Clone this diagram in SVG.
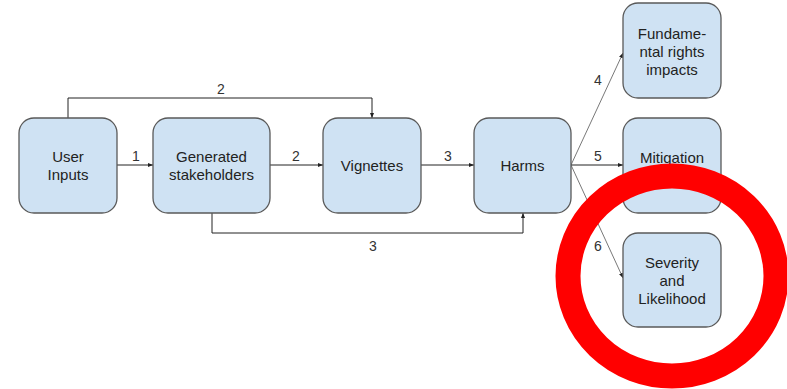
<svg xmlns="http://www.w3.org/2000/svg" width="787" height="389" viewBox="0 0 787 389">
  <defs>
    <marker id="arrow" viewBox="0 0 10 10" refX="10" refY="5" markerWidth="5" markerHeight="5" orient="auto" markerUnits="userSpaceOnUse">
      <path d="M0,1 L10,5 L0,9 z" fill="#222"/>
    </marker>
    <style>
      .box { fill: #cfe2f3; stroke: #595959; stroke-width: 1.3; }
      .label { font-family: "Liberation Sans", Arial, sans-serif; font-size: 15px; fill: #222; text-anchor: middle; }
      .num { font-family: "Liberation Sans", Arial, sans-serif; font-size: 14px; fill: #333; text-anchor: middle; }
      .edge { fill: none; stroke: #222; stroke-width: 1; }
      .thin { fill: none; stroke: #555; stroke-width: 0.8; }
    </style>
  </defs>
  <rect width="787" height="389" fill="#ffffff"/>

  <g id="connectors">
    <!-- 1: inputs -> stakeholders -->
    <line class="edge" x1="117" y1="165" x2="153" y2="165" marker-end="url(#arrow)"/>
    <text class="num" x="136" y="161">1</text>
    <!-- 2: stakeholders -> vignettes -->
    <line class="edge" x1="270" y1="165" x2="323" y2="165" marker-end="url(#arrow)"/>
    <text class="num" x="296" y="161">2</text>
    <!-- 2: inputs -> vignettes (over the top) -->
    <path class="edge" d="M68,118 V98 H372 V118" marker-end="url(#arrow)"/>
    <text class="num" x="221" y="94">2</text>
    <!-- 3: vignettes -> harms -->
    <line class="edge" x1="421" y1="165" x2="474" y2="165" marker-end="url(#arrow)"/>
    <text class="num" x="448" y="161">3</text>
    <!-- 3: stakeholders -> harms (underneath) -->
    <path class="edge" d="M212,213 V233 H523 V213" marker-end="url(#arrow)"/>
    <text class="num" x="373" y="251">3</text>
    <!-- 4, 5, 6: harms fan-out -->
    <line class="thin" x1="571" y1="165" x2="623" y2="53" marker-end="url(#arrow)"/>
    <text class="num" x="598" y="85">4</text>
    <line class="edge" x1="571" y1="165" x2="623" y2="165" marker-end="url(#arrow)"/>
    <text class="num" x="598" y="161">5</text>
    <line class="thin" x1="571" y1="165" x2="623" y2="278" marker-end="url(#arrow)"/>
    <text class="num" x="598" y="251">6</text>
  </g>

  <g id="user-inputs">
    <rect class="box" x="19" y="118" width="98" height="95" rx="15"/>
    <text class="label" x="68" y="162">User</text>
    <text class="label" x="68" y="180">Inputs</text>
  </g>
  <g id="generated-stakeholders">
    <rect class="box" x="153" y="118" width="117" height="95" rx="15"/>
    <text class="label" x="211.5" y="162">Generated</text>
    <text class="label" x="211.5" y="180">stakeholders</text>
  </g>
  <g id="vignettes">
    <rect class="box" x="323" y="118" width="98" height="95" rx="15"/>
    <text class="label" x="372" y="171">Vignettes</text>
  </g>
  <g id="harms">
    <rect class="box" x="474" y="118" width="97" height="95" rx="15"/>
    <text class="label" x="522.5" y="171">Harms</text>
  </g>
  <g id="fundamental-rights">
    <rect class="box" x="623" y="3" width="98" height="95" rx="15"/>
    <text class="label" x="672" y="39">Fundame-</text>
    <text class="label" x="672" y="57">ntal rights</text>
    <text class="label" x="672" y="75">impacts</text>
  </g>
  <g id="mitigation">
    <rect class="box" x="623" y="118" width="98" height="95" rx="15"/>
    <text class="label" x="672" y="163">Mitigation</text>
  </g>
  <g id="severity-likelihood">
    <rect class="box" x="623" y="233" width="98" height="94" rx="15"/>
    <text class="label" x="672" y="268">Severity</text>
    <text class="label" x="672" y="286">and</text>
    <text class="label" x="672" y="304">Likelihood</text>
  </g>

  <!-- red highlight ring -->
  <ellipse cx="672" cy="276" rx="104" ry="100" fill="none" stroke="#ff0000" stroke-width="25"/>
</svg>
